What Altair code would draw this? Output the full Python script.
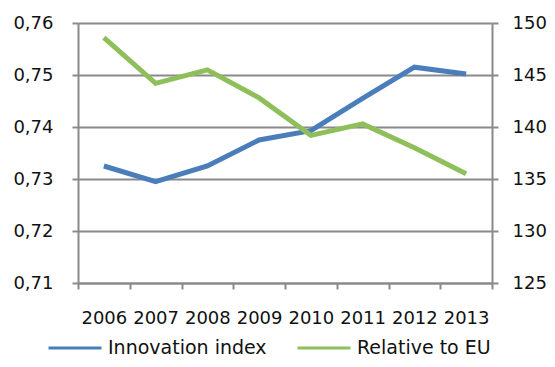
import altair as alt
import pandas as pd

years = ["2006", "2007", "2008", "2009", "2010", "2011", "2012", "2013"]
innovation = [0.7325, 0.7295, 0.7325, 0.7375, 0.7393, 0.7455, 0.7515, 0.7502]
relative_eu = [148.6, 144.2, 145.5, 142.8, 139.2, 140.3, 138.0, 135.5]
left_ticks = [0.71, 0.72, 0.73, 0.74, 0.75, 0.76]
right_ticks = [125, 130, 135, 140, 145, 150]
series_names = ["Innovation index", "Relative to EU"]
series_colors = ["#4a7ebb", "#8fbf5a"]

df_a = pd.DataFrame({"year": years, "value": innovation, "series": series_names[0]})
df_b = pd.DataFrame({"year": years, "value": relative_eu, "series": series_names[1]})

FONT = "DejaVu Sans"
GRAY = "#8a8a8a"
TXT = "#111111"
FS = 18

x_enc = alt.X("year:O", title=None, sort=years,
              scale=alt.Scale(paddingInner=0, paddingOuter=0),
              axis=alt.Axis(labelAngle=0, labelFontSize=FS, labelFont=FONT, labelColor=TXT,
                            labelPadding=20, tickSize=6, tickColor=GRAY, domainColor=GRAY,
                            tickBand="extent", tickWidth=2, domainWidth=2, grid=False))

color_enc = alt.Color("series:N", title=None,
                      scale=alt.Scale(domain=series_names, range=series_colors),
                      legend=alt.Legend(orient="none", direction="horizontal",
                                        legendX=-31, legendY=297, padding=0,
                                        symbolType="stroke", symbolSize=2809,
                                        symbolStrokeWidth=3, labelFontSize=19,
                                        labelFont=FONT, labelColor=TXT,
                                        columnPadding=24, labelOffset=5,
                                        labelLimit=300))

left = alt.Chart(df_a).mark_line(strokeWidth=5).encode(
    x=x_enc,
    y=alt.Y("value:Q", title=None,
            scale=alt.Scale(domain=[0.71, 0.76], nice=False, zero=False),
            axis=alt.Axis(orient="left", values=left_ticks,
                          labelExpr="replace(format(datum.value, '.2f'), '.', ',')",
                          labelFontSize=FS, labelFont=FONT, labelColor=TXT,
                          labelPadding=19, tickSize=6, tickColor=GRAY, tickWidth=2,
                          domainColor=GRAY, domainWidth=2,
                          grid=True, gridColor=GRAY, gridWidth=2)),
    color=color_enc,
)

right = alt.Chart(df_b).mark_line(strokeWidth=5).encode(
    x=x_enc,
    y=alt.Y("value:Q", title=None,
            scale=alt.Scale(domain=[125, 150], nice=False, zero=False),
            axis=alt.Axis(orient="right", values=right_ticks, format="d",
                          labelFontSize=FS, labelFont=FONT, labelColor=TXT,
                          labelPadding=14, tickSize=6, tickColor=GRAY, tickWidth=2,
                          domainColor=GRAY, domainWidth=2, grid=False)),
    color=color_enc,
)

chart = alt.layer(left, right).resolve_scale(y="independent").properties(
    width=414, height=260,
    autosize=alt.AutoSizeParams(type="none"),
    padding={"left": 70, "top": 15, "right": 55, "bottom": 76},
).configure_view(stroke=None).configure(background="white")

chart.save("out.html", embed_options={"renderer": "svg", "actions": False})
